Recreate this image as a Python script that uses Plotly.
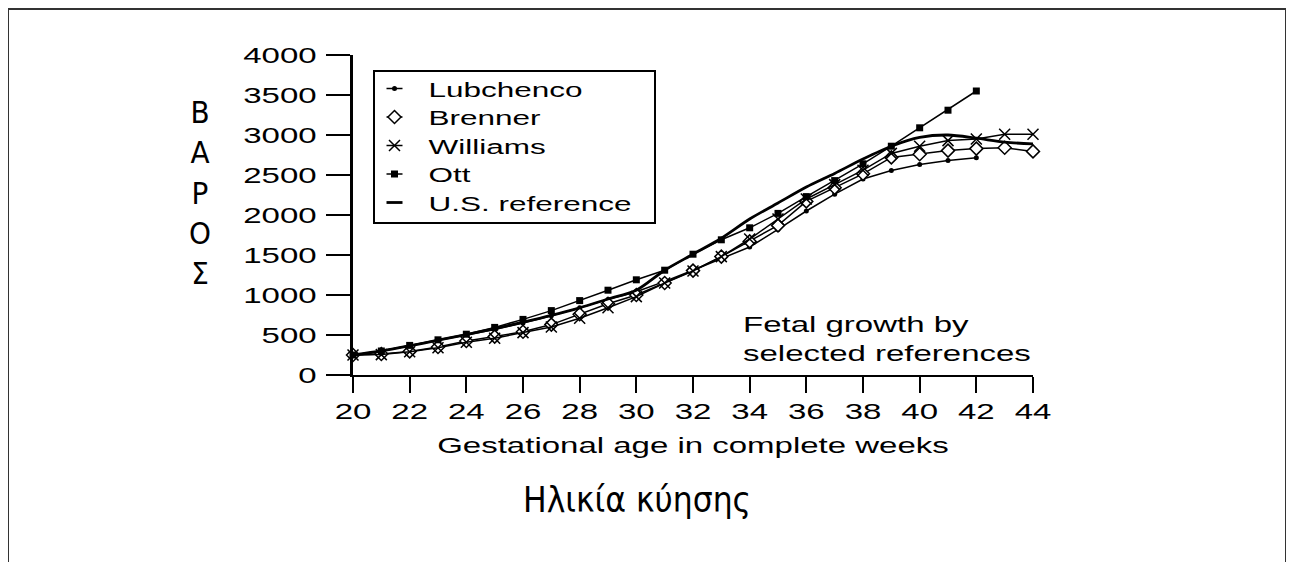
import plotly.graph_objects as go

weeks = list(range(20, 45))
x_ticks = list(range(20, 46, 2))
y_ticks = list(range(0, 4001, 500))

lubchenco = [250, 300, 365, 435, 500, 570, 650, 740, 840, 945, 1040, 1170, 1310, 1460, 1600,
             1820, 2050, 2260, 2450, 2555, 2630, 2680, 2715]
brenner = [250, 262, 295, 350, 425, 480, 540, 630, 760, 890, 1000, 1150, 1305, 1480, 1670,
           1870, 2170, 2340, 2515, 2720, 2760, 2805, 2830, 2840, 2795]
williams = [250, 255, 290, 340, 410, 460, 530, 600, 710, 840, 980, 1150, 1300, 1480, 1700,
            1950, 2200, 2380, 2560, 2770, 2860, 2930, 2950, 3010, 3010]
ott = [250, 300, 370, 440, 510, 595, 695, 805, 930, 1060, 1190, 1310, 1510, 1690, 1840,
       2020, 2230, 2430, 2640, 2860, 3090, 3310, 3550]
us_reference = [250, 300, 365, 435, 505, 580, 660, 745, 840, 950, 1060, 1310, 1510, 1710, 1950,
                2150, 2350, 2520, 2700, 2860, 2970, 3000, 2960, 2910, 2890]

FONT = "Liberation Sans, Arial, sans-serif"
NARROW = "Liberation Sans Narrow, DejaVu Sans Condensed, sans-serif"

# page offset of the plot div (browser body margin)
OFF = 8
W, H = 1294 - OFF, 562 - OFF
PX0, PX1, PY0, PY1 = 353, 1033, 55, 375  # plot area in page pixels


def px(x):
    return (x - PX0) / (PX1 - PX0)


def py(y):
    return (PY1 - y) / (PY1 - PY0)


fig = go.Figure()
fig.add_trace(go.Scatter(x=weeks[:len(lubchenco)], y=lubchenco, name="Lubchenco", mode="lines+markers",
                         cliponaxis=False, line=dict(color="black", width=1.5),
                         marker=dict(symbol="circle", size=5, color="black")))
fig.add_trace(go.Scatter(x=weeks[:len(brenner)], y=brenner, name="Brenner", mode="lines+markers",
                         cliponaxis=False, line=dict(color="black", width=1.5),
                         marker=dict(symbol="diamond", size=10, color="white",
                                     line=dict(color="black", width=1.5))))
fig.add_trace(go.Scatter(x=weeks[:len(williams)], y=williams, name="Williams", mode="lines+markers",
                         cliponaxis=False, line=dict(color="black", width=1.5),
                         marker=dict(symbol="x-thin", size=11, color="black",
                                     line=dict(color="black", width=1.5))))
fig.add_trace(go.Scatter(x=weeks[:len(ott)], y=ott, name="Ott", mode="lines+markers",
                         cliponaxis=False, line=dict(color="black", width=1.5),
                         marker=dict(symbol="square", size=7, color="black")))
fig.add_trace(go.Scatter(x=weeks[:len(us_reference)], y=us_reference, name="U.S. reference", mode="lines",
                         cliponaxis=False,
                         line=dict(color="black", width=2.8, shape="spline", smoothing=0.8)))

fig.update_layout(
    width=W, height=H,
    margin=dict(l=PX0 - OFF, r=W - (PX1 - OFF), t=PY0 - OFF, b=H - (PY1 - OFF)),
    paper_bgcolor="white", plot_bgcolor="white",
    font=dict(family=FONT, color="black", size=22),
    showlegend=True,
    legend=dict(x=px(373), y=py(70), xanchor="left", yanchor="top",
                bordercolor="black", borderwidth=1.5, bgcolor="white",
                font=dict(family=FONT, size=21, color="black"),
                itemwidth=30, tracegroupgap=0),
    xaxis=dict(range=[20, 44], tickvals=x_ticks, ticktext=[str(v) for v in x_ticks],
               showgrid=False, zeroline=False, showline=True, linecolor="black", linewidth=2,
               ticks="outside", ticklen=16, tickwidth=1.5, tickcolor="black",
               tickfont=dict(family=FONT, size=22, color="black"),
               title=dict(text="Gestational age in complete weeks",
                          font=dict(family=FONT, size=22, color="black"), standoff=14)),
    yaxis=dict(range=[0, 4000], tickvals=y_ticks, ticktext=[str(v) for v in y_ticks],
               showgrid=False, zeroline=False, showline=True, linecolor="black", linewidth=3,
               ticks="outside", ticklen=24, tickwidth=1.5, tickcolor="black",
               tickfont=dict(family=FONT, size=22, color="black"), ticklabelstandoff=5),
)

fig.add_annotation(x=px(741), y=py(339), xref="paper", yref="paper", xanchor="left", yanchor="middle",
                   align="left", showarrow=False,
                   text="Fetal growth by<br>selected references",
                   font=dict(family=FONT, size=22, color="black"))
fig.add_annotation(x=px(637), y=py(522), xref="paper", yref="paper",
                   showarrow=False, text="Ηλικία κύησης",
                   font=dict(family=NARROW, size=35, color="black"))
fig.add_annotation(x=px(187), y=py(192), xref="paper", yref="paper",
                   showarrow=False, text="Β<br>Α<br>Ρ<br>Ο<br>Σ",
                   font=dict(family=NARROW, size=31, color="black"))

# outer frame
fig.add_shape(type="rect", xref="paper", yref="paper",
              x0=px(8), x1=px(1286), y0=py(600), y1=py(9),
              line=dict(color="#333333", width=2), fillcolor="rgba(0,0,0,0)", layer="below")

# The scanned original is stretched horizontally: widen the Latin-script texts,
# and tighten the legend rows and symbols like the original.
post_js = r"""
var gd = document.getElementById('{plot_id}');
var S = 1.5;
function stretch(t, dx) {
  var b = t.getBBox();
  var anc = t.getAttribute('text-anchor') || 'start';
  var ax = anc === 'end' ? b.x + b.width : (anc === 'middle' ? b.x + b.width / 2 : b.x);
  var tr = t.getAttribute('transform') || '';
  t.setAttribute('transform', tr + ' translate(' + (ax + dx) + ',0) scale(' + S + ',1) translate(' + (-ax) + ',0)');
}
gd.querySelectorAll('.xtick text, .ytick text, .g-xtitle text').forEach(function (t) { stretch(t, 0); });
gd.querySelectorAll('.annotation-text').forEach(function (t) {
  if (t.textContent.indexOf('Fetal') >= 0) { stretch(t, 0); }
});
gd.querySelectorAll('.legend .legendtext').forEach(function (t) { stretch(t, 14); });
var sb = gd.querySelector('.legend .scrollbox');
if (sb) { sb.removeAttribute('clip-path'); }
var rows = gd.querySelectorAll('.legend g.traces');
rows.forEach(function (g, i) {
  var m = /translate\(\s*([-\d.eE]+)[ ,]+([-\d.eE]+)\s*\)/.exec(g.getAttribute('transform') || '');
  var x0 = m ? parseFloat(m[1]) : 1.5;
  g.setAttribute('transform', 'translate(' + x0 + ',' + (18.5 + i * 28.5) + ')');
});
gd.querySelectorAll('.legend .legendlines path').forEach(function (p) {
  p.setAttribute('d', 'M12,0h16');
});
var bg = gd.querySelector('.legend rect.bg');
if (bg) { bg.setAttribute('width', 281); bg.setAttribute('height', 152); }
"""

fig.write_html("out.html", post_script=post_js)
